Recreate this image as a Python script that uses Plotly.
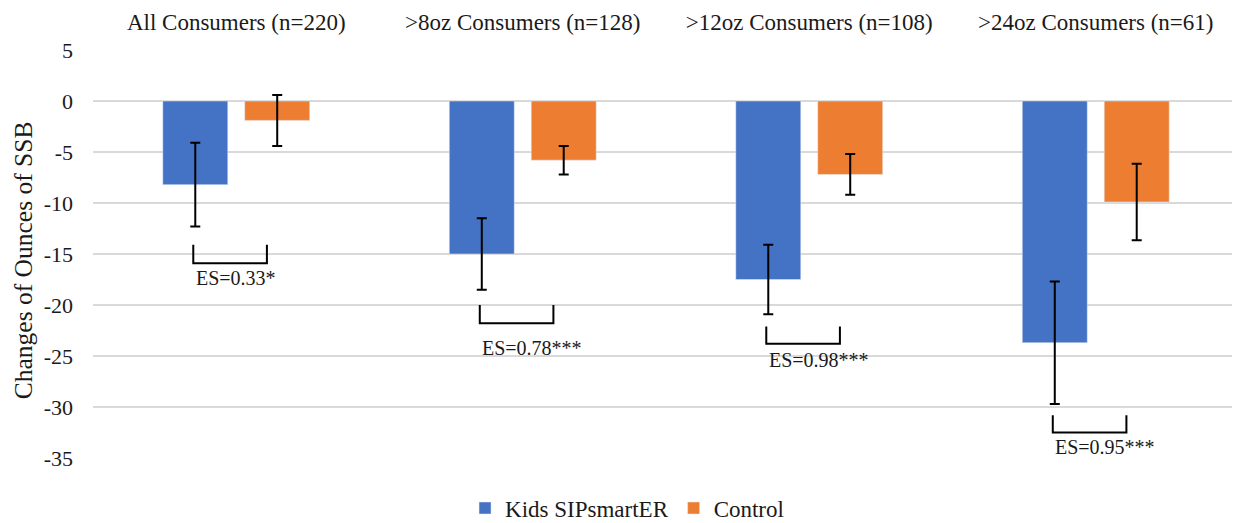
import plotly.graph_objects as go

categories = ["All Consumers (n=220)", ">8oz Consumers (n=128)", ">12oz Consumers (n=108)", ">24oz Consumers (n=61)"]
kids_values = [-8.2, -15.0, -17.5, -23.7]
kids_err = [4.1, 3.5, 3.4, 6.0]
control_values = [-1.9, -5.8, -7.2, -9.9]
control_err = [2.5, 1.4, 2.0, 3.75]
es_labels = ["ES=0.33*", "ES=0.78***", "ES=0.98***", "ES=0.95***"]
bracket_top = [-14.1, -20.0, -22.1, -30.8]
bracket_bottom = [-15.9, -21.8, -23.8, -32.5]
label_y = [-17.4, -24.2, -25.4, -33.9]
y_ticks = [5, 0, -5, -10, -15, -20, -25, -30, -35]
y_tick_text = ["5", "0", "-5", "-10", "-15", "-20", "-25", "-30", "-35"]

FONT = "Liberation Serif, Times New Roman, serif"
TXT = "#1a1a1a"

fig = go.Figure()
fig.add_trace(go.Bar(
    name="Kids SIPsmartER", x=categories, y=kids_values, marker_color="#4472C4",
    error_y=dict(type="data", array=kids_err, color="black", thickness=2, width=5),
))
fig.add_trace(go.Bar(
    name="Control", x=categories, y=control_values, marker_color="#ED7D31",
    error_y=dict(type="data", array=control_err, color="black", thickness=2, width=5),
))

for i in range(len(categories)):
    x0 = i - 0.15
    x1 = i + 0.107
    fig.add_shape(type="path",
                  path=f"M {x0} {bracket_top[i]} L {x0} {bracket_bottom[i]} L {x1} {bracket_bottom[i]} L {x1} {bracket_top[i]}",
                  xref="x", yref="y", line=dict(color="black", width=2))
    fig.add_annotation(x=i - 0.148, y=label_y[i], xref="x", yref="y", text=es_labels[i],
                       showarrow=False, xanchor="left", yanchor="middle",
                       font=dict(family=FONT, size=20, color=TXT))

# y-axis title as annotation for exact placement
fig.add_annotation(text="Changes of Ounces of SSB", xref="paper", yref="paper",
                   x=-0.061, y=0.485, xanchor="center", yanchor="middle", textangle=-90,
                   showarrow=False, font=dict(family=FONT, size=25.5, color=TXT))

# The page body has an 8px default margin; size the figure so it fits the 1240x523 window.
fig.update_layout(
    width=1232, height=515,
    barmode="group", bargap=0.428, bargroupgap=0.207,
    plot_bgcolor="white", paper_bgcolor="white",
    margin=dict(l=85, r=1, t=42, b=65),
    font=dict(family=FONT, size=22, color=TXT),
    xaxis=dict(side="top", showline=False, ticks="", tickfont=dict(size=23, color=TXT),
               showgrid=False, zeroline=False, automargin=False, ticklabelstandoff=14),
    yaxis=dict(range=[-35, 5], tickvals=y_ticks, ticktext=y_tick_text, showgrid=True,
               gridcolor="#d9d9d9", gridwidth=1.5, automargin=False,
               zeroline=False, showline=False, ticks="", tickfont=dict(size=22, color=TXT),
               ticklabelstandoff=19),
    legend=dict(orientation="h", xref="paper", x=0.466, xanchor="center", yref="container",
                y=0.029, yanchor="middle", font=dict(size=23, color=TXT), itemwidth=30),
    showlegend=True,
)

fig.write_html("out.html")
